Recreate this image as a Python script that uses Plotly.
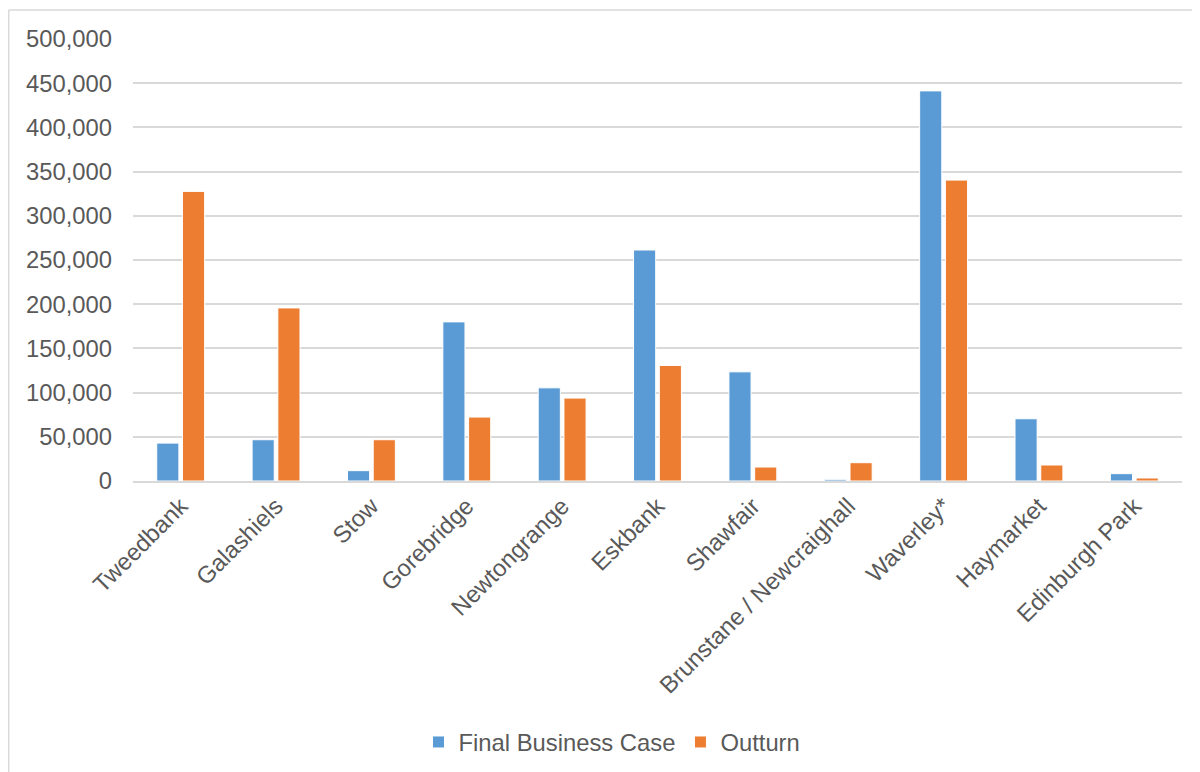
import plotly.graph_objects as go

categories = ["Tweedbank", "Galashiels", "Stow", "Gorebridge", "Newtongrange", "Eskbank",
              "Shawfair", "Brunstane / Newcraighall", "Waverley*", "Haymarket", "Edinburgh Park"]
final_business_case = [42900, 46700, 11700, 180000, 105400, 261300, 123500, 1900, 441300, 70400, 8300]
outturn = [327600, 195800, 46700, 72300, 93800, 130700, 15800, 20700, 340400, 18100, 3400]

# the page adds an 8px body margin, so the figure is sized to fill the rest of the window
OFF = 8
W, H = 1200 - OFF, 772 - OFF
L, R, T, B = 133 - OFF, 18, 39 - OFF, 291
pw, ph = W - L - R, H - T - B


def px(x):
    return (x - OFF - L) / pw


def py(y):
    return (H - B - (y - OFF)) / ph


font = dict(family="Liberation Sans, Arial, sans-serif", size=23.8, color="#595959")

fig = go.Figure()
fig.add_trace(go.Bar(name="Final Business Case", x=categories, y=final_business_case,
                     marker=dict(color="#5b9bd5", line=dict(color="white", width=1))))
fig.add_trace(go.Bar(name="Outturn", x=categories, y=outturn,
                     marker=dict(color="#ed7d31", line=dict(color="white", width=1))))

fig.update_layout(
    width=W, height=H,
    margin=dict(l=L, r=R, t=T, b=B, autoexpand=False),
    paper_bgcolor="white", plot_bgcolor="white",
    barmode="group", bargap=0.46, bargroupgap=0.14,
    font=font,
    showlegend=True,
    legend=dict(orientation="h", x=px(612), xanchor="center", y=py(742), yanchor="middle",
                font=font, itemwidth=30, traceorder="normal"),
    shapes=[
        dict(type="line", xref="paper", yref="paper", x0=px(8.7), x1=px(1200), y0=py(10), y1=py(10),
             line=dict(color="#d9d9d9", width=1.5)),
        dict(type="line", xref="paper", yref="paper", x0=px(8.7), x1=px(8.7), y0=py(10), y1=py(772),
             line=dict(color="#d9d9d9", width=1.5)),
    ],
)
fig.update_yaxes(range=[0, 500000], dtick=50000, tickformat=",d", showgrid=True,
                 gridcolor="#d9d9d9", gridwidth=1.5, zeroline=False, showline=False,
                 ticks="", tickfont=font, ticklabelstandoff=20)
fig.update_xaxes(tickangle=-45, showline=True, linecolor="#d9d9d9", linewidth=1.5,
                 ticks="", tickfont=font, showgrid=False)

fig.write_html("out.html")
